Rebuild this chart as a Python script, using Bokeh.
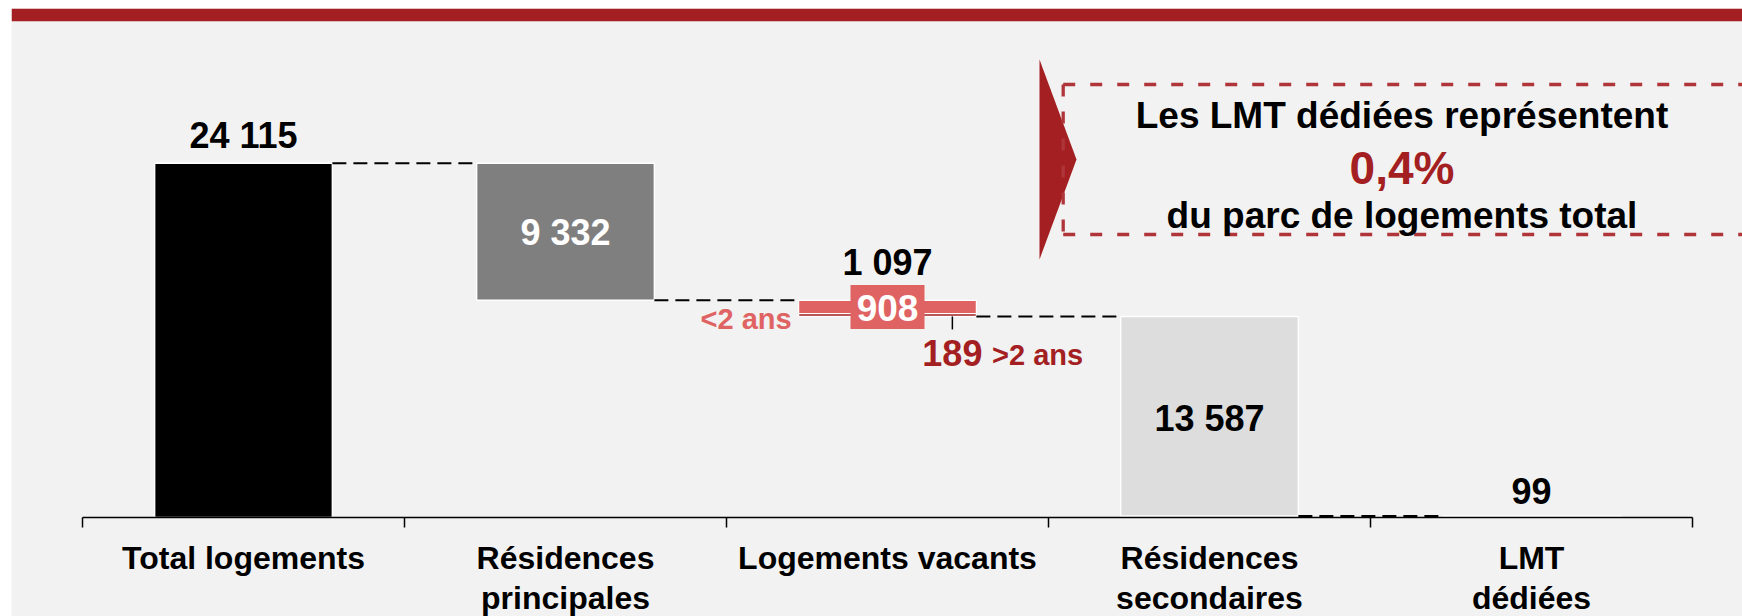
import math
from bokeh.plotting import figure
from bokeh.models import Range1d, FixedTicker, BoxAnnotation
from bokeh.core.properties import value
from bokeh.embed import file_html
from bokeh.resources import INLINE

# ---------------- DATA ----------------
categories = ["Total logements", "Résidences principales", "Logements vacants",
              "Résidences secondaires", "LMT dédiées"]
tick_labels = ["Total logements", "Résidences\nprincipales", "Logements vacants",
               "Résidences\nsecondaires", "LMT\ndédiées"]
values = [24115, 9332, 1097, 13587, 99]
value_labels = ["24 115", "9 332", "1 097", "13 587", "99"]
vacant_split = [908, 189]
vacant_split_labels = ["908", "189"]
vacant_split_names = ["<2 ans", ">2 ans"]
callout_lines = ["Les LMT dédiées représentent", "0,4%", "du parc de logements total"]

# ---------------- STYLE / LAYOUT ----------------
W, H = 1742, 616
FRAME_LEFT, FRAME_TOP = 11, 8      # white margin of the slide
TICK0_PX = 82                      # px of first category boundary
CAT_PX = 322                       # px per category
AXIS_PX = 517                      # px of the baseline (value 0)
PX_PER_VALUE = 354.3 / 24115
BAR_W = 0.552
BG = "#f2f2f2"
RED = "#a31f22"
BOX_RED = "#b0353a"
PINK = "#e06363"
FONT = "Liberation Sans"
BASELINE_FIX = 0.35                # em shift of svg alphabetic baseline
bar_colors = ["#000000", "#7f7f7f", None, "#dddddd", RED]
split_colors = [PINK, RED]

X_START = (FRAME_LEFT - TICK0_PX) / CAT_PX
X_END = (W - TICK0_PX) / CAT_PX
Y_TOP = (AXIS_PX - FRAME_TOP) / PX_PER_VALUE
Y_BOTTOM = -(H - AXIS_PX) / PX_PER_VALUE


def ref_x(px):
    return (px - TICK0_PX) / CAT_PX


def ref_y(py):
    return (AXIS_PX - py) / PX_PER_VALUE


def boff(offset, size):
    return offset - BASELINE_FIX * size


# ---------------- WATERFALL GEOMETRY (from data) ----------------
centers = [i + 0.5 for i in range(len(categories))]
tops, bottoms = [], []
level = 0
for i, v in enumerate(values):
    if i == 0:
        tops.append(v); bottoms.append(0); level = v
    elif i == len(values) - 1:
        tops.append(v); bottoms.append(0)
    else:
        tops.append(level); bottoms.append(level - v); level -= v

p = figure(width=W, height=H, x_range=Range1d(X_START, X_END),
           y_range=Range1d(Y_BOTTOM, Y_TOP),
           output_backend="svg", toolbar_location=None, y_axis_location=None,
           min_border_left=FRAME_LEFT, min_border_top=FRAME_TOP,
           min_border_right=0, min_border_bottom=0,
           background_fill_color=BG, border_fill_color="white", outline_line_color=None)
p.grid.visible = False

# red band on top
p.add_layout(BoxAnnotation(bottom=ref_y(20.7), fill_color=RED, fill_alpha=1, line_color=None))

# solid bars (all except split vacants)
solid = [i for i in range(len(values)) if bar_colors[i] is not None]
p.quad(left=[centers[i] - BAR_W / 2 for i in solid], right=[centers[i] + BAR_W / 2 for i in solid],
       top=[tops[i] for i in solid], bottom=[bottoms[i] for i in solid],
       fill_color=[bar_colors[i] for i in solid], line_color="white", line_width=1.5)

# vacant split bar
vi = 2
seg_tops, seg_bottoms = [], []
lv = tops[vi]
for s in vacant_split:
    seg_tops.append(lv); seg_bottoms.append(lv - s); lv -= s
p.quad(left=[centers[vi] - BAR_W / 2] * 2, right=[centers[vi] + BAR_W / 2] * 2,
       top=seg_tops, bottom=seg_bottoms, fill_color=split_colors,
       line_color="white", line_width=1.2)

# connectors
x0s, x1s, ys = [], [], []
for i in range(len(values) - 1):
    lvl = tops[0] if i == 0 else bottoms[i]
    x0s.append(centers[i] + BAR_W / 2); x1s.append(centers[i + 1] - BAR_W / 2); ys.append(lvl)
p.segment(x0=x0s, y0=ys, x1=x1s, y1=ys, line_color="black", line_width=2, line_dash="14 7")

txt = dict(text_font=value(FONT), text_font_style="bold", text_baseline="alphabetic")

# value labels above bars
above = [0, 2, 4]
above_off = [-14.7, -24.8, -12.5]
p.text(x=[centers[i] for i in above], y=[tops[i] for i in above],
       text=[value_labels[i] for i in above], y_offset=[boff(o, 36) for o in above_off],
       text_align="center", text_color="black", text_font_size="36px", **txt)
# value labels inside bars
inside = [1, 3]
inside_off = [13.5, 15]
p.text(x=[centers[i] for i in inside], y=[(tops[i] + bottoms[i]) / 2 for i in inside],
       text=[value_labels[i] for i in inside], y_offset=[boff(o, 36) for o in inside_off],
       text_align="center", text_color=["white", "black"], text_font_size="36px", **txt)

# 908 box label
mid908 = (seg_tops[0] + seg_bottoms[0]) / 2
p.rect(x=[centers[vi]], y=[mid908], width=74, height=44, width_units="screen",
       height_units="screen", fill_color=PINK, line_color=None)
p.text(x=[centers[vi]], y=[mid908], text=[vacant_split_labels[0]], y_offset=boff(13.5, 37),
       text_align="center", text_color="white", text_font_size="37px", **txt)
p.text(x=[centers[vi] - BAR_W / 2], y=[mid908], text=[vacant_split_names[0]],
       x_offset=-7, y_offset=boff(22.5, 29), text_align="right",
       text_color=PINK, text_font_size="29px", **txt)

# 189 leader + labels
lead_x = centers[vi] + BAR_W / 2 - 24 / CAT_PX
p.ray(x=[lead_x], y=[seg_bottoms[1]], length=13, angle=-math.pi / 2, length_units="screen",
      line_color="black", line_width=1.5)
p.text(x=[lead_x], y=[seg_bottoms[1]], text=[vacant_split_labels[1]], y_offset=boff(49, 36),
       text_align="center", text_color=RED, text_font_size="36px", **txt)
p.text(x=[lead_x], y=[seg_bottoms[1]], text=[vacant_split_names[1]], x_offset=39.7,
       y_offset=boff(49, 29), text_align="left", text_color=RED,
       text_font_size="29px", **txt)

# callout
p.patch(x=[ref_x(1039), ref_x(1076), ref_x(1039)], y=[ref_y(59), ref_y(159), ref_y(259)],
        fill_color=RED, line_color=None)
bx_l, bx_t, bx_b, bx_r = ref_x(1062.7), ref_y(84), ref_y(234), X_END + 0.3
p.multi_line(xs=[[bx_l, bx_r], [bx_l, bx_l], [bx_l, bx_r]],
             ys=[[bx_t, bx_t], [bx_t, bx_b], [bx_b, bx_b]],
             line_color=BOX_RED, line_width=3.3, line_dash="12 15")
cx = ref_x(1401.5)
p.text(x=[cx, cx, cx], y=[ref_y(128.3), ref_y(183.3), ref_y(228.3)], text=callout_lines,
       y_offset=[boff(0, 37), boff(0, 46), boff(0, 37)], text_align="center",
       text_color=["black", RED, "black"], text_font_size=["37px", "46px", "37px"],
       text_font=value(FONT), text_font_style="bold", text_baseline="alphabetic")

# axis (drawn at value 0)
ax = p.xaxis[0]
ax.fixed_location = 0
ax.ticker = FixedTicker(ticks=centers, minor_ticks=list(range(len(categories) + 1)))
ax.bounds = (0, len(categories))
ax.major_label_overrides = {c: lab for c, lab in zip(centers, tick_labels)}
ax.major_tick_in = 0
ax.major_tick_out = 0
ax.minor_tick_in = 0
ax.minor_tick_out = 10
ax.minor_tick_line_color = "black"
ax.minor_tick_line_width = 1.5
ax.axis_line_color = "black"
ax.axis_line_width = 1.5
ax.major_label_text_font = FONT
ax.major_label_text_font_style = "bold"
ax.major_label_text_font_size = "32px"
ax.major_label_text_color = "black"
ax.major_label_text_line_height = 1.13
ax.major_label_standoff = 12

open("out.html", "w", encoding="utf-8").write(file_html(p, INLINE))
